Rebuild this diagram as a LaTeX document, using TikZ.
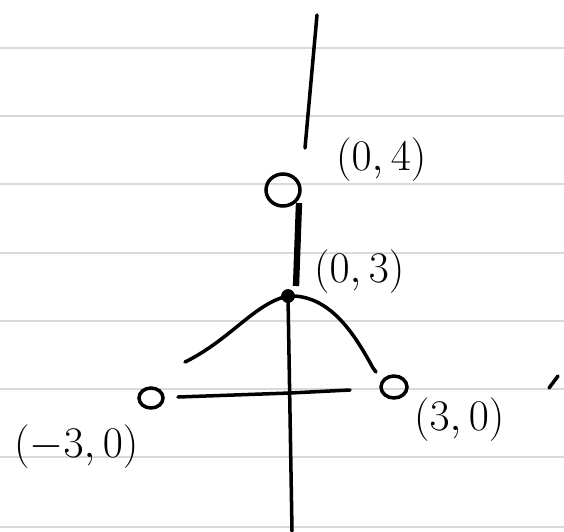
\documentclass[tikz,border=0pt]{standalone}
\usetikzlibrary{positioning}
\newcommand\lbl{\fontsize{24}{28}\selectfont}

\begin{document}
\begin{tikzpicture}[x=0.02cm,y=-0.02cm,pen/.style={line width=2pt,line cap=round},hole/.style={draw,line width=2pt}]
\useasboundingbox (0,0) rectangle (564,531);
\foreach\y in{48,116,184,253,321,389,457,527} \draw[gray!30, line width=1.2pt] (0,\y)--(564,\y);
\coordinate (yTop) at (317,15);
\coordinate (yBot) at (292,531);
\coordinate (xL) at (178,397);
\coordinate (xR) at (350,390);
\coordinate (peak) at (288,296);
\coordinate (curveL) at (185,362);
\coordinate (curveR) at (373,368);
\draw[pen] (yTop)--(305,148);
\draw[line width=3.6pt] (299,203)--(296,286);
\draw[pen] (peak)--(yBot);
\draw[pen] (xL)--(290,393)--(xR);
\draw[pen] (curveL) .. controls (230,340) and (255,303) .. (peak);
\draw[pen] (peak) .. controls (330,294) and (355,335) .. (curveR) -- (376,372);
\filldraw (peak) circle(6.5);
\draw[hole] (283,190) ellipse(17 and 16);
\draw[hole] (151,398) ellipse(12 and 10);
\draw[hole] (394,387) ellipse(13 and 11);
\draw[pen] (549,388)--(558,376);
\node[right] (lTop) at (330,160) {\lbl$(0,4)$};
\node[right] (lPeak) at (308,272) {\lbl$(0,3)$};
\node[right] (lR) at (408,420) {\lbl$(3,0)$};
\node[right] (lL) at (8,447) {\lbl$(-3,0)$};
\end{tikzpicture}
\end{document}
